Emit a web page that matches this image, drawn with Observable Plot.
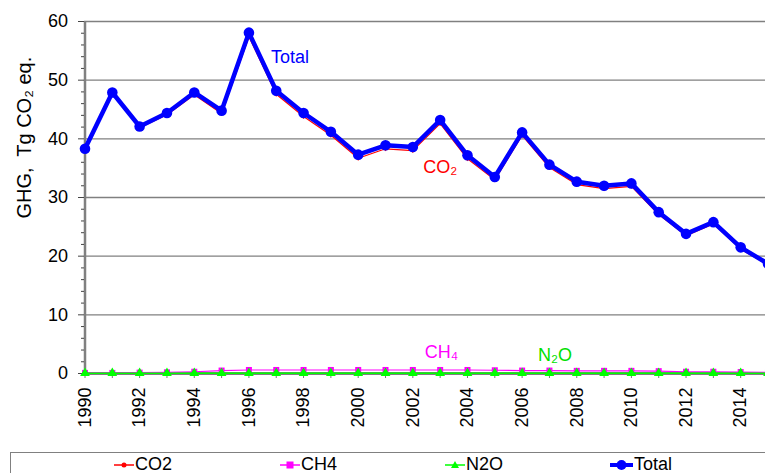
<!DOCTYPE html>
<html><head><meta charset="utf-8">
<script src="https://cdn.jsdelivr.net/npm/d3@7"></script>
<script src="https://cdn.jsdelivr.net/npm/@observablehq/plot@0.6"></script>
<style>
body{margin:0;background:#fff;font-family:"Liberation Sans",Arial,sans-serif;}
#legend{position:relative;margin-left:10px;height:30px;border-top:1px solid #808080;border-left:1px solid #808080;}
.item{position:absolute;top:1px;display:flex;align-items:center;font-size:18px;color:#000;}
.item span{margin-left:1px;}
</style></head><body>
<div id="chart"></div><div id="legend"></div>
<script>
const years = [1990,1991,1992,1993,1994,1995,1996,1997,1998,1999,2000,2001,2002,2003,2004,2005,2006,2007,2008,2009,2010,2011,2012,2013,2014,2015];
const total = [38.3,47.9,42.1,44.4,47.9,44.8,58.1,48.2,44.4,41.2,37.3,38.9,38.6,43.2,37.2,33.5,41.1,35.6,32.7,32.0,32.4,27.5,23.8,25.8,21.5,18.7];
const co2   = [38.1,47.7,41.9,44.1,47.5,44.3,57.4,47.6,43.8,40.6,36.7,38.3,38.0,42.6,36.6,33.0,40.6,35.1,32.2,31.5,31.9,27.1,23.5,25.5,21.2,18.5];
const ch4   = [0.1,0.1,0.15,0.2,0.3,0.5,0.6,0.6,0.6,0.6,0.6,0.6,0.6,0.6,0.6,0.55,0.5,0.5,0.45,0.45,0.45,0.4,0.3,0.3,0.25,0.2];
const n2o   = [0.05,0.05,0.05,0.05,0.05,0.05,0.05,0.05,0.05,0.05,0.05,0.05,0.05,0.05,0.05,0.05,0.05,0.05,0.05,0.05,0.05,0.05,0.05,0.05,0.05,0.05];
const yMajor = [0,10,20,30,40,50,60];
const yMinor = [2,4,6,8,12,14,16,18,22,24,26,28,32,34,36,38,42,44,46,48,52,54,56,58];
const xLabels = [1990,1992,1994,1996,1998,2000,2002,2004,2006,2008,2010,2012,2014];
const yTitle = "GHG,\u00a0 Tg CO₂ eq.";
const seriesNames = ["CO2","CH4","N2O","Total"];
const seriesColors = ["#ff0000","#ff00ff","#00ff00","#0000ff"];
const annotations = [
  {x:1997.5, y:53.9, text:"Total", color:"#0000ff"},
  {x:2003.0, y:35.1, text:"CO₂", color:"#ff0000"},
  {x:2003.05, y:3.6, text:"CH₄", color:"#ff00ff"},
  {x:2007.2, y:3.1, text:"N₂O", color:"#00e000"}
];

const rows = years.map((year,i)=>({year, total:total[i], co2:co2[i], ch4:ch4[i], n2o:n2o[i]}));

const chart = Plot.plot({
  width:765, height:452,
  marginLeft:84, marginRight:0, marginTop:21, marginBottom:79,
  style:{fontFamily:"'Liberation Sans', Arial, sans-serif", fontSize:"18px", color:"#000", background:"#fff", overflow:"visible"},
  x:{domain:[1990,2015], range:[84.5,767.5]},
  y:{domain:[0,60], range:[373,21]},
  marks:[
    Plot.ruleY(yMajor.filter(d=>d>0), {stroke:"#808080", strokeWidth:1.3}),
    Plot.ruleX([1990], {stroke:"#808080", strokeWidth:2.5}),
    Plot.axisY({ticks:yMinor, tickSize:3, text:null, label:null, stroke:"#444"}),
    Plot.axisY({ticks:yMajor, tickSize:6, text:null, label:null, stroke:"#444"}),
    Plot.text(yMajor, {x:()=>1990, y:d=>d, text:d=>String(d), textAnchor:"end", dx:-17, fontSize:18, fill:"#000"}),
    Plot.text([{y:40.2}], {x:()=>1990, y:"y", text:()=>yTitle, rotate:-90, dx:-60, fontSize:20}),
    Plot.axisX({ticks:years, tickSize:5, text:null, label:null, stroke:"#777"}),
    Plot.text(xLabels, {x:d=>d, y:()=>0, text:d=>String(d), rotate:-90, textAnchor:"end", dy:14, fontSize:18, fill:"#000"}),
    Plot.ruleY([0], {stroke:"#000", strokeWidth:1.8}),
    Plot.line(rows, {x:"year", y:"ch4", stroke:seriesColors[1], strokeWidth:1.2}),
    Plot.dot(rows, {x:"year", y:"ch4", symbol:"square", r:3.4, fill:seriesColors[1]}),
    Plot.line(rows, {x:"year", y:"n2o", stroke:seriesColors[2], strokeWidth:1.5}),
    Plot.dot(rows, {x:"year", y:"n2o", symbol:"triangle", r:3.6, fill:seriesColors[2]}),
    Plot.line(rows, {x:"year", y:"co2", stroke:seriesColors[0], strokeWidth:1.2}),
    Plot.dot(rows, {x:"year", y:"co2", symbol:"diamond2", r:2.2, fill:seriesColors[0]}),
    Plot.line(rows, {x:"year", y:"total", stroke:seriesColors[3], strokeWidth:4.5}),
    Plot.dot(rows, {x:"year", y:"total", r:5.3, fill:seriesColors[3]}),
    Plot.text(annotations, {x:"x", y:"y", text:"text", fill:"color", fontSize:18})
  ]
});
document.getElementById("chart").appendChild(chart);

const legendLeft = [103, 269, 434, 599];
const markerSvg = [
  '<line x1="0" y1="6" x2="20" y2="6" stroke="#ff0000" stroke-width="1.5"/><circle cx="10" cy="6" r="2.5" fill="#ff0000"/>',
  '<line x1="0" y1="6" x2="20" y2="6" stroke="#ff00ff" stroke-width="1.5"/><rect x="6.5" y="2.5" width="7" height="7" fill="#ff00ff"/>',
  '<line x1="0" y1="6" x2="20" y2="6" stroke="#00ff00" stroke-width="1.5"/><path d="M10,2 L14,9 L6,9 Z" fill="#00ff00"/>',
  '<line x1="0" y1="6" x2="23" y2="6" stroke="#0000ff" stroke-width="4"/><circle cx="11.5" cy="6" r="5" fill="#0000ff"/>'
];
const legend = document.getElementById("legend");
seriesNames.forEach((name,i)=>{
  const d = document.createElement("div");
  d.className = "item";
  d.style.left = legendLeft[i] + "px";
  d.innerHTML = `<svg width="${i===3?23:20}" height="12">${markerSvg[i]}</svg><span>${name}</span>`;
  legend.appendChild(d);
});
</script>
</body></html>
